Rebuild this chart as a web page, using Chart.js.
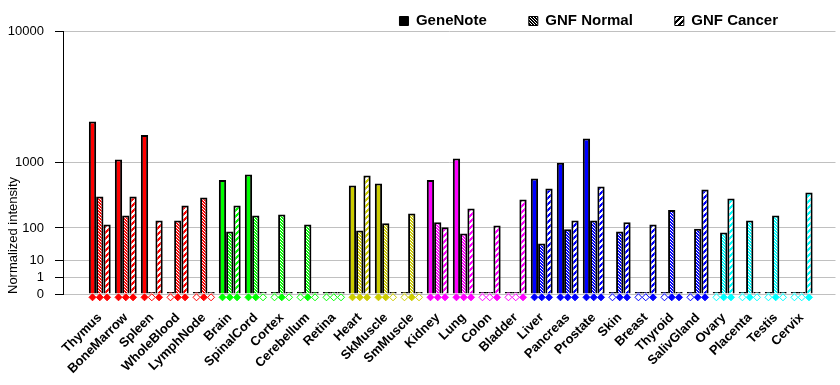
<!DOCTYPE html>
<html lang="en">
  <head>
    <meta charset="UTF-8" />
    <title>Expression by tissue</title>
    <script src="https://cdn.jsdelivr.net/npm/chart.js@4"></script>
    <style>
      html,
      body {
        margin: 0;
        padding: 0;
        background: #fff;
      }
      .chart-box {
        position: relative;
        width: 840px;
        height: 385px;
      }
    </style>
  </head>
  <body>
    <div class="chart-box"><canvas id="tissueChart"></canvas></div>
    <script>
      const categories = ["Thymus", "BoneMarrow", "Spleen", "WholeBlood", "LymphNode", "Brain", "SpinalCord", "Cortex", "Cerebellum", "Retina", "Heart", "SkMuscle", "SmMuscle", "Kidney", "Lung", "Colon", "Bladder", "Liver", "Pancreas", "Prostate", "Skin", "Breast", "Thyroid", "SalivGland", "Ovary", "Placenta", "Testis", "Cervix"];
      const geneNote = [2450, 1070, 1865, 0, 0, 615, 722, 0, 0, 0, 523, 556, 0, 615, 1098, 0, 0, 645, 985, 1736, 0, 0, 0, 0, 0, 0, 0, 0];
      const gnfNormal = [366, 178, 0, 143, 354, 83, 178, 186, 119, 0, 88, 125, 194, 131, 75, 0, 0, 41, 93, 143, 83, 0, 223, 96, 79, 143, 178, 0];
      const gnfCancer = [119, 366, 143, 265, 0, 265, 0, 0, 0, 0, 703, 0, 0, 103, 237, 113, 331, 477, 143, 508, 131, 119, 0, 462, 342, 0, 0, 419];
      // present calls shown as diamonds under each bar (1 = filled)
      const geneNoteCall = [1, 1, 1, 0, 0, 1, 1, 0, 0, 0, 1, 1, 0, 1, 1, 0, 0, 1, 1, 1, 0, 0, 0, 0, 0, 0, 0, 0];
      const gnfNormalCall = [1, 1, 0, 1, 1, 1, 1, 1, 1, 0, 1, 1, 1, 1, 1, 0, 0, 1, 1, 1, 1, 0, 1, 1, 1, 1, 1, 0];
      const gnfCancerCall = [1, 1, 1, 1, 0, 1, 0, 0, 0, 0, 1, 0, 0, 1, 1, 1, 1, 1, 1, 1, 1, 1, 1, 1, 1, 0, 0, 1];
      const tickValues = [0, 1, 10, 100, 1000, 10000];
      const tickLabels = ["0", "1", "10", "100", "1000", "10000"];

      const RED = "#ff0000", GREEN = "#00ff00", OLIVE = "#cccc00", MAGENTA = "#ff00ff", BLUE = "#0000ff", CYAN = "#00ffff";
      const tissueColors = [RED, RED, RED, RED, RED, GREEN, GREEN, GREEN, GREEN, GREEN, OLIVE, OLIVE, OLIVE, MAGENTA, MAGENTA, MAGENTA, MAGENTA, BLUE, BLUE, BLUE, BLUE, BLUE, BLUE, BLUE, CYAN, CYAN, CYAN, CYAN];

      // the y axis is a power scale (each decade doubles the height)
      const axisExp = 0.3;
      const toAxis = (v) => Math.pow(v, axisExp);

      const catPct = 0.84;
      const slot = catPct / 3;
      const callRowY = -0.2;

      function normalHatch(color) {
        const c = document.createElement("canvas");
        c.width = c.height = 3;
        const g = c.getContext("2d");
        g.fillStyle = color;
        g.fillRect(0, 0, 3, 3);
        g.fillStyle = "#fff";
        for (let i = 0; i < 3; i++) g.fillRect(i, i, 1, 1);
        return g.createPattern(c, "repeat");
      }

      function cancerHatch(color) {
        const c = document.createElement("canvas");
        c.width = c.height = 6;
        const g = c.getContext("2d");
        g.fillStyle = "#fff";
        g.fillRect(0, 0, 6, 6);
        g.fillStyle = color;
        for (let y = 0; y < 6; y++) {
          for (let x = 0; x < 6; x++) {
            if ((x + y) % 6 < 3) g.fillRect(x, y, 1, 1);
          }
        }
        return g.createPattern(c, "repeat");
      }

      const barData = (values) => values.map((v, i) => ({ x: i, y: toAxis(v) }));
      const callData = (k) => categories.map((c, i) => ({ x: i + (k - 1) * slot, y: callRowY }));
      const callFill = (calls) => calls.map((c, i) => (c ? tissueColors[i] : "#fff"));

      function callSet(label, calls, k) {
        return {
          type: "line",
          label: label,
          data: callData(k),
          showLine: false,
          clip: false,
          pointStyle: "rectRot",
          pointRadius: 3.5,
          pointHoverRadius: 3.5,
          pointBorderWidth: 1,
          pointBackgroundColor: callFill(calls),
          pointBorderColor: tissueColors,
        };
      }

      // chart.js keeps an end-aligned legend flush right, pull it left a bit
      const legendShift = {
        id: "legendShift",
        afterLayout(chart) {
          chart.legend.left -= 20;
          chart.legend.right -= 20;
        },
      };

      Chart.defaults.font.family = '"Liberation Sans", Arial, sans-serif';
      Chart.defaults.color = "#000";

      const ctx = document.getElementById("tissueChart").getContext("2d");
      new Chart(ctx, {
        type: "bar",
        data: {
          datasets: [
            { label: "GeneNote", data: barData(geneNote), backgroundColor: tissueColors },
            { label: "GNF Normal", data: barData(gnfNormal), backgroundColor: tissueColors.map(normalHatch) },
            { label: "GNF Cancer", data: barData(gnfCancer), backgroundColor: tissueColors.map(cancerHatch) },
            callSet("GeneNote call", geneNoteCall, 0),
            callSet("GNF Normal call", gnfNormalCall, 1),
            callSet("GNF Cancer call", gnfCancerCall, 2),
          ],
        },
        options: {
          responsive: true,
          maintainAspectRatio: false,
          animation: false,
          layout: { padding: { top: -28.5, left: 0, right: 0, bottom: 0 } },
          datasets: {
            bar: {
              categoryPercentage: catPct,
              barPercentage: 1,
              borderColor: "#000",
              borderWidth: 2,
              minBarLength: 2,
            },
          },
          scales: {
            x: {
              type: "linear",
              offset: false,
              min: -1.415,
              max: 28.3,
              grid: { display: false },
              border: { display: false },
              afterBuildTicks: (s) => {
                s.ticks = categories.map((c, i) => ({ value: i }));
              },
              afterFit: (s) => {
                s.height = 91;
              },
              ticks: {
                autoSkip: false,
                minRotation: 45,
                maxRotation: 45,
                padding: 8,
                font: { size: 13, weight: "bold" },
                callback: (v) => categories[v],
              },
            },
            y: {
              min: 0,
              max: toAxis(10000),
              afterBuildTicks: (s) => {
                s.ticks = tickValues.map((v) => ({ value: toAxis(v) }));
              },
              afterFit: (s) => {
                s.width = 63;
              },
              ticks: {
                padding: 11,
                font: { size: 13 },
                callback: (v, i) => tickLabels[i],
              },
              grid: { color: "#c0c0c0", tickColor: "#000", tickLength: 8 },
              border: { color: "#000", width: 1 },
              title: {
                display: true,
                text: "Normalized intensity",
                align: "start",
                padding: { top: 6, bottom: 0 },
                font: { size: 13 },
              },
            },
          },
          plugins: {
            tooltip: { enabled: false },
            legend: {
              position: "top",
              align: "end",
              maxHeight: 59.5,
              labels: {
                boxWidth: 9,
                boxHeight: 9,
                padding: 42,
                font: { size: 15, weight: "bold" },
                generateLabels: () => [
                  { text: "GeneNote", fillStyle: "#000", strokeStyle: "#000", lineWidth: 1, fontColor: "#000", datasetIndex: 0 },
                  { text: "GNF Normal", fillStyle: normalHatch("#000"), strokeStyle: "#000", lineWidth: 1, fontColor: "#000", datasetIndex: 1 },
                  { text: "GNF Cancer", fillStyle: cancerHatch("#000"), strokeStyle: "#000", lineWidth: 1, fontColor: "#000", datasetIndex: 2 },
                ],
              },
            },
          },
        },
        plugins: [legendShift],
      });
    </script>
  </body>
</html>
